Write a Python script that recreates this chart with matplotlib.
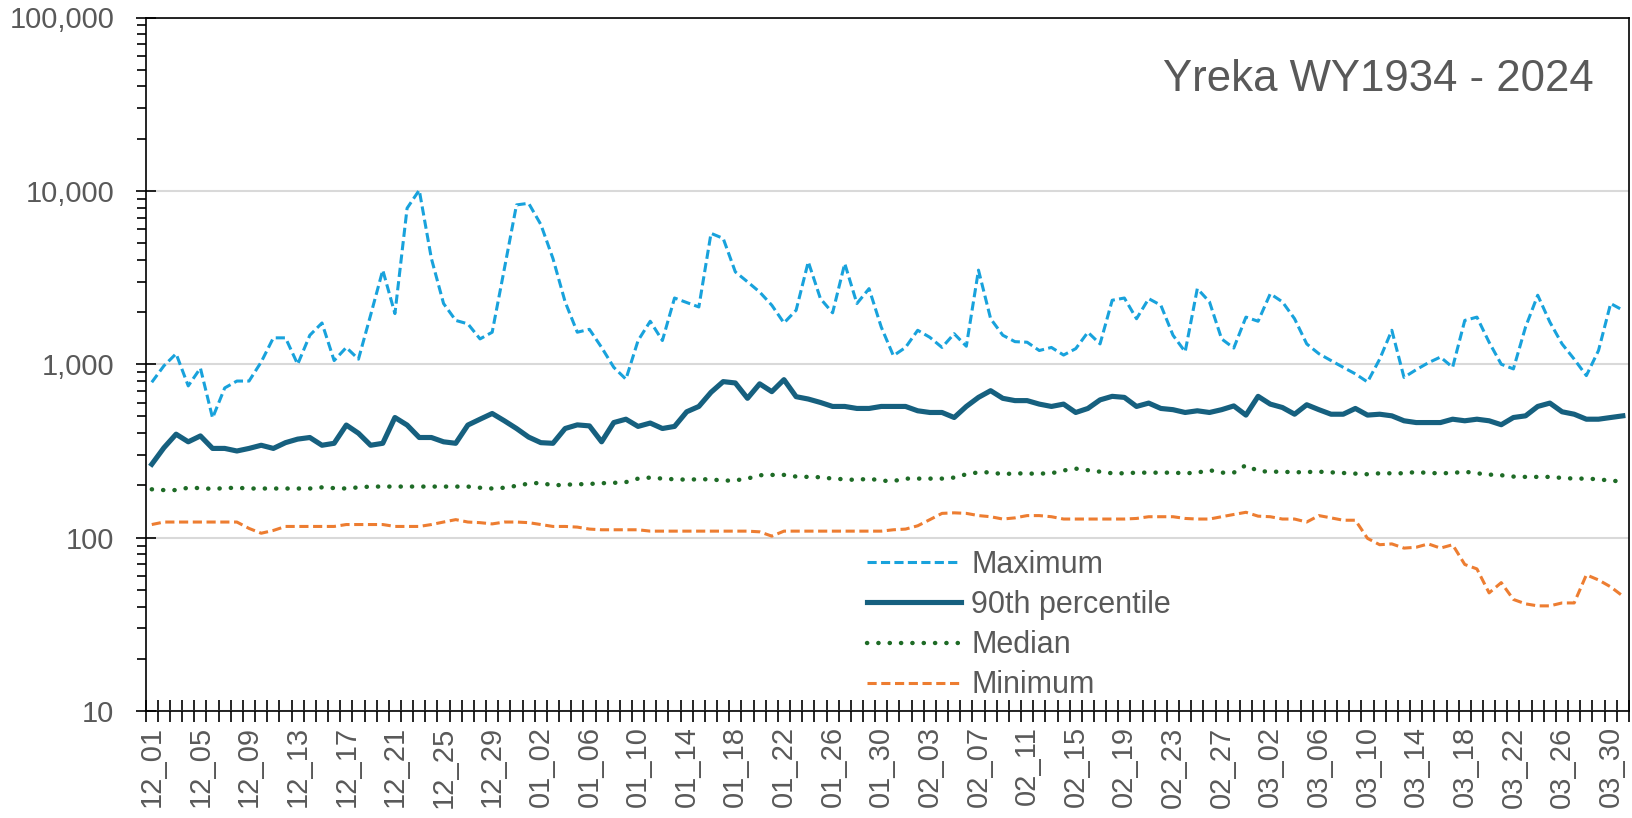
import numpy as np
import matplotlib
matplotlib.use("Agg")
import matplotlib.pyplot as plt
from matplotlib.ticker import LogLocator, FixedLocator, NullFormatter, FuncFormatter

# day labels, water-year winter season Dec 1 - Mar 31 (leap Feb)
months = [12, 1, 2, 3]
month_days = [31, 31, 29, 31]
day_labels = []
for m, nd in zip(months, month_days):
    for d in range(1, nd + 1):
        day_labels.append(f"{m:02d}_{d:02d}")

maximum = [787, 980, 1150, 750, 950, 490, 730, 800, 800, 1030,
           1420, 1420, 1000, 1470, 1730, 1050, 1250, 1070, 1920, 3490,
           1960, 7940, 10100, 4070, 2240, 1790, 1710, 1400, 1530, 3550,
           8300, 8480, 6400, 4070, 2290, 1530, 1590, 1250, 960, 820,
           1370, 1770, 1370, 2410, 2270, 2140, 5690, 5320, 3410, 2990,
           2610, 2190, 1730, 2050, 3900, 2390, 1980, 3810, 2240, 2730,
           1640, 1120, 1250, 1570, 1430, 1250, 1500, 1270, 3490, 1830,
           1470, 1350, 1340, 1200, 1250, 1130, 1230, 1530, 1310, 2340,
           2410, 1830, 2390, 2190, 1470, 1180, 2730, 2290, 1400, 1240,
           1870, 1770, 2550, 2290, 1830, 1310, 1150, 1050, 960, 880,
           790, 1070, 1570, 840, 930, 1020, 1100, 960, 1790, 1870,
           1340, 1000, 940, 1640, 2500, 1750, 1310, 1070, 860, 1200,
           2240, 2050]

pct90 = [265, 330, 395, 357, 386, 327, 327, 316, 327, 341,
         327, 353, 370, 378, 341, 350, 446, 400, 341, 350,
         493, 446, 378, 378, 357, 350, 446, 482, 520, 472,
         426, 380, 353, 350, 426, 447, 441, 357, 461, 482,
         438, 458, 426, 438, 532, 571, 689, 794, 780, 636,
         771, 695, 815, 650, 630, 602, 571, 571, 556, 556,
         571, 571, 571, 539, 527, 527, 493, 571, 644, 704,
         636, 617, 617, 589, 571, 589, 527, 556, 623, 653,
         644, 571, 597, 556, 547, 527, 539, 527, 547, 575,
         509, 653, 589, 563, 515, 584, 547, 515, 515, 556,
         509, 515, 504, 472, 461, 461, 461, 482, 472, 482,
         472, 448, 493, 504, 571, 597, 532, 515, 482, 482,
         493, 504]

median = [190, 188, 188, 194, 193, 191, 193, 194, 192, 192,
          192, 192, 192, 192, 195, 193, 192, 195, 197, 197,
          197, 197, 197, 197, 197, 197, 197, 194, 192, 194,
          199, 205, 207, 200, 202, 203, 204, 206, 207, 209,
          219, 222, 219, 217, 216, 217, 217, 213, 214, 219,
          229, 230, 230, 225, 224, 223, 219, 217, 215, 219,
          213, 212, 219, 219, 219, 219, 222, 232, 238, 238,
          232, 235, 234, 234, 235, 244, 250, 245, 240, 235,
          235, 237, 237, 237, 237, 235, 237, 245, 237, 237,
          262, 242, 240, 240, 238, 239, 240, 238, 236, 234,
          232, 235, 235, 235, 239, 236, 235, 236, 240, 235,
          231, 229, 225, 224, 224, 224, 221, 219, 219, 217,
          213, 211]

minimum = [119, 123, 123, 123, 123, 123, 123, 123, 113, 106,
           110, 116, 116, 116, 116, 116, 119, 119, 119, 119,
           116, 116, 116, 119, 123, 127, 123, 122, 120, 123,
           123, 122, 119, 116, 116, 115, 112, 111, 111, 111,
           111, 109, 109, 109, 109, 109, 109, 109, 109, 109,
           108, 102, 109, 109, 109, 109, 109, 109, 109, 109,
           109, 111, 112, 117, 127, 138, 139, 138, 134, 132,
           128, 130, 134, 134, 132, 128, 128, 128, 128, 128,
           128, 129, 132, 132, 132, 129, 128, 128, 132, 136,
           140, 133, 132, 128, 128, 123, 134, 130, 126, 126,
           99, 91, 92, 87, 88, 92, 87, 91, 70, 66,
           48, 55, 44, 41.5, 40.4, 40.4, 42, 42, 61, 57,
           52, 46]

text_col = "#595959"
plt.rcParams['font.family'] = ['Liberation Sans', 'DejaVu Sans']

fig = plt.figure(figsize=(16.32, 8.18), dpi=100)
ax = fig.add_axes([145.7 / 1632, 107 / 818, 1483.2 / 1632, 693.5 / 818])

x = np.arange(len(day_labels))

ax.plot(x, maximum, color="#18A2DC", lw=2.2, linestyle=(0, (3.0, 1.4)), label="Maximum")
ax.plot(x, pct90, color="#16607F", lw=3.7, solid_joinstyle="round", label="90th percentile")
ax.plot(x, median, color="#1E6B26", lw=3.2, linestyle=(0, (0.05, 2.5)),
        dash_capstyle="round", label="Median")
ax.plot(x, minimum, color="#ED7D31", lw=2.2, linestyle=(0, (3.0, 1.5)), label="Minimum")

ax.set_yscale("log")
ax.set_ylim(10, 100000)
ax.set_xlim(-0.5, len(day_labels) - 0.5)

# y ticks
ax.yaxis.set_major_locator(LogLocator(base=10, numticks=10))
ax.yaxis.set_minor_locator(LogLocator(base=10, subs=np.arange(2, 10), numticks=10))
ax.yaxis.set_minor_formatter(NullFormatter())
ax.yaxis.set_major_formatter(FuncFormatter(lambda v, p: f"{int(round(v)):,}"))
ax.tick_params(axis="y", which="major", direction="inout", length=15, width=1.2,
               labelsize=21, labelcolor=text_col, pad=15)
ax.tick_params(axis="y", which="minor", direction="out", length=6.5, width=1.2)

# x ticks: labels every 4 days, tick marks at category boundaries
ax.set_xticks(x[::4])
ax.set_xticklabels(day_labels[::4], rotation=90)
ax.xaxis.set_minor_locator(FixedLocator(np.arange(-0.5, len(day_labels), 1.0)))
ax.tick_params(axis="x", which="major", length=0, labelsize=21, labelcolor=text_col, pad=11)
ax.tick_params(axis="x", which="minor", direction="inout", length=16, width=1.2)

ax.grid(True, which="major", axis="y", color="#D9D9D9", lw=1.5)
ax.set_axisbelow(True)
for s in ax.spines.values():
    s.set_color("black")
    s.set_linewidth(1.2)

ax.text(0.976, 0.894, "Yreka WY1934 - 2024", transform=ax.transAxes,
        ha="right", va="baseline", fontsize=31.5, color=text_col)

ax.legend(loc="upper left", bbox_to_anchor=(0.486, 0.232), frameon=False,
          fontsize=22, labelcolor=text_col, handlelength=3.1, handletextpad=0.33,
          labelspacing=0.33, borderpad=0, borderaxespad=0)

fig.savefig("out.png", dpi=100)
